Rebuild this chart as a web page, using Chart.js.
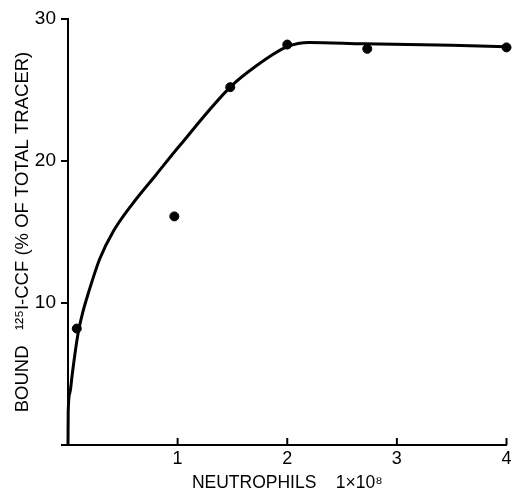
<!DOCTYPE html>
<html>
<head>
<meta charset="utf-8">
<script src="https://cdn.jsdelivr.net/npm/chart.js@4.4.1/dist/chart.umd.min.js"></script>
<style>
  html, body { margin: 0; padding: 0; background: #fff; }
  canvas { display: block; }
</style>
</head>
<body>
<canvas id="bindingChart" width="512" height="494"></canvas>
<script>
// Measured binding values (neutrophils x 1e8 vs bound tracer %)
const pointX = [0.08, 0.97, 1.48, 2.0, 2.73, 4.0];
const pointY = [8.2, 16.1, 25.2, 28.2, 27.9, 28.0];

// Hand-drawn fitted curve
const curveX = [0, 0.002, 0.018, 0.039, 0.063, 0.093, 0.13, 0.17, 0.214, 0.289, 0.41, 0.59, 0.80, 1.01, 1.48, 1.7, 2.0, 2.2, 2.7, 3.5, 4.0];
const curveY = [0, 2.4, 3.7, 5.0, 6.4, 7.9, 9.2, 10.3, 11.4, 13.1, 15.0, 17.0, 19.0, 21.0, 25.2, 26.6, 28.05, 28.35, 28.25, 28.15, 28.05];

const xTicks = [1, 2, 3, 4];
const yTicks = [10, 20, 30];

const fontFamily = "'Liberation Sans', Arial, sans-serif";

function toPoints(xs, ys) {
    const pts = [];
    for (let i = 0; i < xs.length; i++) {
        pts.push({ x: xs[i], y: ys[i] });
    }
    return pts;
}

// x ticks in the figure point up into the plot, so draw them ourselves
const innerTicks = {
    id: 'innerTicks',
    afterDraw(chart) {
        const ctx = chart.ctx;
        const xs = chart.scales.x;
        ctx.save();
        ctx.strokeStyle = '#000';
        ctx.lineWidth = 2;
        xTicks.forEach(v => {
            const px = xs.getPixelForValue(v);
            ctx.beginPath();
            ctx.moveTo(px, xs.top);
            ctx.lineTo(px, xs.top - 7);
            ctx.stroke();
        });
        ctx.restore();
    }
};

const ctx = document.getElementById('bindingChart').getContext('2d');
const bindingChart = new Chart(ctx, {
    type: 'scatter',
    data: {
        datasets: [{
            type: 'line',
            label: 'curve',
            data: toPoints(curveX, curveY),
            borderColor: '#000',
            borderWidth: 3,
            pointRadius: 0,
            cubicInterpolationMode: 'monotone',
            fill: false,
            clip: false
        }, {
            label: 'measured',
            data: toPoints(pointX, pointY),
            backgroundColor: '#000',
            borderColor: '#000',
            pointRadius: 4.5,
            clip: false
        }]
    },
    options: {
        responsive: false,
        animation: false,
        events: [],
        layout: { padding: { top: 19, right: 2, left: 0, bottom: 0 } },
        plugins: {
            legend: { display: false },
            tooltip: { enabled: false }
        },
        scales: {
            x: {
                type: 'linear',
                min: 0,
                max: 4,
                afterBuildTicks: s => { s.ticks = [0].concat(xTicks).map(v => ({ value: v })); },
                afterFit: s => { s.height = 49; s.paddingLeft = 0; s.paddingRight = 0; },
                border: { display: true, color: '#000', width: 2 },
                grid: { display: false, drawTicks: false },
                ticks: {
                    color: '#000',
                    padding: 3,
                    font: { family: fontFamily, size: 18 },
                    callback: v => v === 0 ? '' : String(v)
                },
                title: {
                    display: true,
                    text: 'NEUTROPHILS    1\u00d710\u2078',
                    color: '#000',
                    padding: { top: 2, bottom: 0 },
                    font: { family: fontFamily, size: 17.5 }
                }
            },
            y: {
                type: 'linear',
                min: 0,
                max: 30,
                afterBuildTicks: s => { s.ticks = [0].concat(yTicks).map(v => ({ value: v })); },
                afterFit: s => { s.width = 68; s.paddingTop = 0; s.paddingBottom = 0; },
                border: { display: true, color: '#000', width: 2 },
                grid: {
                    display: true,
                    drawOnChartArea: false,
                    drawTicks: true,
                    tickLength: 7,
                    color: '#000',
                    lineWidth: 2
                },
                ticks: {
                    color: '#000',
                    padding: 5,
                    font: { family: fontFamily, size: 19 },
                    callback: v => v === 0 ? '' : String(v)
                },
                title: {
                    display: true,
                    text: 'BOUND   \u00b9\u00b2\u2075I-CCF (% OF TOTAL TRACER)',
                    color: '#000',
                    padding: { top: 12, bottom: 10 },
                    font: { family: fontFamily, size: 18.5 }
                }
            }
        }
    },
    plugins: [innerTicks]
});
</script>
</body>
</html>
